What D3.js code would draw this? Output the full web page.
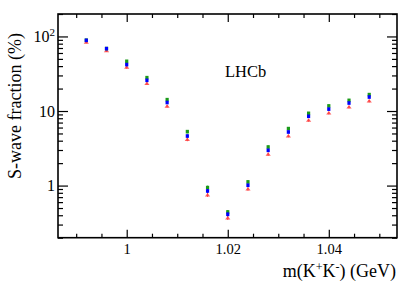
<!DOCTYPE html>
<meta charset="utf-8">
<title>S-wave fraction</title>
<style>
  body { margin: 0; background: #fff; }
  text { font-family: "Liberation Serif", "DejaVu Serif", serif; fill: #000; }
</style>
<div id="viz"></div>
<script src="https://cdnjs.cloudflare.com/ajax/libs/d3/7.8.5/d3.min.js"></script>
<script>

var width = 418;
var height = 283;

// bin centres, m(K+K-) in GeV
var mass = [0.992, 0.996, 1.000, 1.004, 1.008, 1.012, 1.016, 1.020,
            1.024, 1.028, 1.032, 1.036, 1.040, 1.044, 1.048];

// S-wave fraction (%) for the three results
var redVals   = [83.4, 64.1, 38.5, 23.3, 11.6, 4.14, 0.75, 0.368,
                 0.90, 2.63, 4.62, 7.5, 9.4, 11.3, 13.6];
var greenVals = [89.0, 68.8, 46.4, 28.0, 14.2, 5.29, 0.94, 0.443,
                 1.12, 3.29, 5.81, 9.31, 11.7, 13.9, 16.6];
var blueVals  = [88.7, 68.6, 41.9, 25.8, 13.0, 4.62, 0.847, 0.412,
                 1.01, 2.97, 5.23, 8.49, 10.6, 12.8, 15.4];

// relative uncertainty (%) per bin
var errPct = [3, 3, 4, 4, 4, 5, 6, 6, 5, 5, 4, 4, 4, 4, 4];

var xMajor = [1.00, 1.02, 1.04];
var xMinor = [0.990, 0.995, 1.005, 1.010, 1.015, 1.025, 1.030, 1.035, 1.045, 1.050];
var yMajor = [1, 10, 100];
var yMinor = [0.2, 0.3, 0.4, 0.5, 0.6, 0.7, 0.8, 0.9,
              2, 3, 4, 5, 6, 7, 8, 9,
              20, 30, 40, 50, 60, 70, 80, 90, 200];

var padL = 58, padR = 397, padT = 14, padB = 237.7;

var x = d3.scaleLinear().domain([0.9864, 1.0535]).range([padL, padR]);
var y = d3.scaleLog().domain([0.2, 200]).range([padB, padT]);

var svg = d3.select("#viz")
  .append("svg")
  .attr("width", width)
  .attr("height", height);

function strip(g) {
  g.select(".domain").remove();
  g.selectAll(".tick line").attr("stroke", "#000").attr("stroke-width", 1.2);
}

// bottom
svg.append("g").attr("transform", "translate(0," + padB + ")")
  .call(d3.axisBottom(x).tickValues(xMinor).tickSize(-4).tickFormat(""))
  .call(strip);
svg.append("g").attr("transform", "translate(0," + padB + ")")
  .call(d3.axisBottom(x).tickValues(xMajor).tickSize(-8).tickPadding(6)
        .tickFormat(function(d) { return String(+d.toFixed(2)); }))
  .call(strip)
  .attr("font-family", null).attr("font-size", 14.5);
// top
svg.append("g").attr("transform", "translate(0," + padT + ")")
  .call(d3.axisTop(x).tickValues(xMinor).tickSize(-4).tickFormat(""))
  .call(strip);
svg.append("g").attr("transform", "translate(0," + padT + ")")
  .call(d3.axisTop(x).tickValues(xMajor).tickSize(-8).tickFormat(""))
  .call(strip);
// left
svg.append("g").attr("transform", "translate(" + padL + ",0)")
  .call(d3.axisLeft(y).tickValues(yMinor).tickSize(-5).tickFormat(""))
  .call(strip);
var yl = svg.append("g").attr("transform", "translate(" + padL + ",0)")
  .call(d3.axisLeft(y).tickValues(yMajor).tickSize(-10).tickPadding(3)
        .tickFormat(function(d) { return d === 100 ? "10" : String(d); }))
  .call(strip)
  .attr("font-family", null).attr("font-size", 16);
yl.selectAll("text")
  .each(function(d) {
    if (d === 100) {
      d3.select(this).text("10").append("tspan")
        .attr("dy", -6).attr("font-size", 11).text("2");
    }
  });
// right
svg.append("g").attr("transform", "translate(" + padR + ",0)")
  .call(d3.axisRight(y).tickValues(yMinor).tickSize(-5).tickFormat(""))
  .call(strip);
svg.append("g").attr("transform", "translate(" + padR + ",0)")
  .call(d3.axisRight(y).tickValues(yMajor).tickSize(-10).tickFormat(""))
  .call(strip);

// frame
svg.append("rect")
  .attr("x", padL).attr("y", padT)
  .attr("width", padR - padL).attr("height", padB - padT)
  .attr("fill", "none").attr("stroke", "#000").attr("stroke-width", 1.6);

// points
var series = [
  { vals: redVals,   color: "#ff4040", shape: "tri" },
  { vals: greenVals, color: "#1a9a1a", shape: "sq" },
  { vals: blueVals,  color: "#0000ff", shape: "sq" }
];

series.forEach(function(s) {
  var g = svg.append("g");
  var pts = mass.map(function(m, i) { return { m: m, v: s.vals[i], e: errPct[i] / 100 }; });
  g.selectAll("line").data(pts).enter().append("line")
    .attr("x1", function(d) { return x(d.m); })
    .attr("x2", function(d) { return x(d.m); })
    .attr("y1", function(d) { return y(d.v * (1 - d.e)); })
    .attr("y2", function(d) { return y(d.v * (1 + d.e)); })
    .attr("stroke", s.color).attr("stroke-width", 1);
  if (s.shape === "tri") {
    g.selectAll("path").data(pts).enter().append("path")
      .attr("d", function(d) {
        var cx = x(d.m), cy = y(d.v);
        return "M" + (cx - 2.6) + "," + (cy + 1.5) + "L" + (cx + 2.6) + "," + (cy + 1.5) +
               "L" + cx + "," + (cy - 2) + "Z";
      })
      .attr("fill", s.color).attr("opacity", 0.85);
  } else {
    g.selectAll("rect").data(pts).enter().append("rect")
      .attr("x", function(d) { return x(d.m) - 1.6; })
      .attr("y", function(d) { return y(d.v) - 1.8; })
      .attr("width", 3.2).attr("height", 3.6)
      .attr("fill", s.color);
  }
});

// labels
svg.append("text")
  .attr("x", 225).attr("y", 77)
  .attr("font-size", 16.5)
  .text("LHCb");

var xl = svg.append("text")
  .attr("x", 396).attr("y", 276.5)
  .attr("text-anchor", "end")
  .attr("font-size", 18);
xl.append("tspan").text("m(K");
xl.append("tspan").attr("dy", -6).attr("font-size", 12).text("+");
xl.append("tspan").attr("dy", 6).text("K");
xl.append("tspan").attr("dy", -6).attr("font-size", 12).text("-");
xl.append("tspan").attr("dy", 6).text(") (GeV)");

svg.append("text")
  .attr("transform", "translate(21,106) rotate(-90)")
  .attr("text-anchor", "middle")
  .attr("font-size", 18)
  .text("S-wave fraction (%)");

</script>
